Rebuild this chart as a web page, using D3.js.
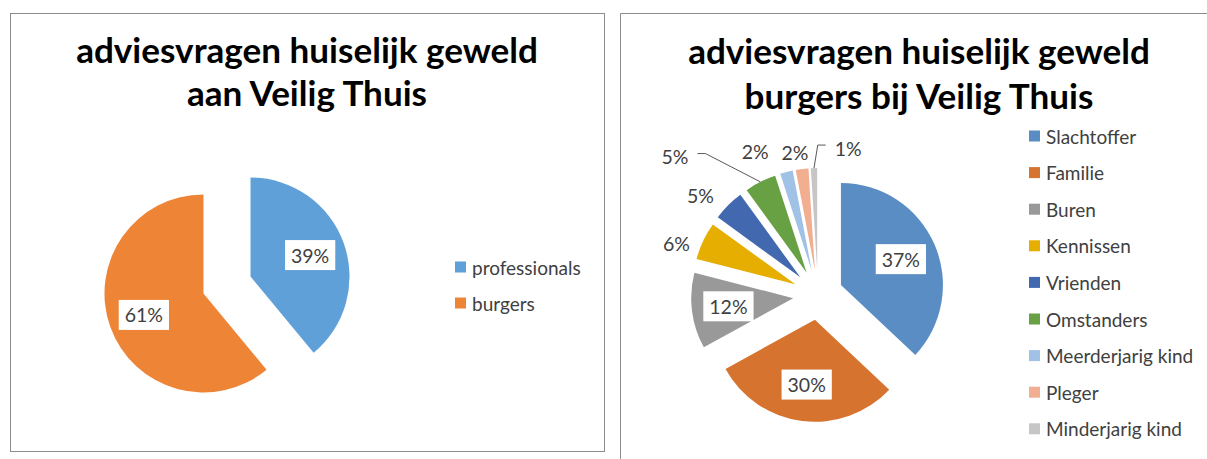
<!DOCTYPE html>
<html>
<head>
<meta charset="utf-8">
<script src="https://cdn.jsdelivr.net/npm/d3@7"></script>
<style>
  body { margin: 0; background: #fff; }
  svg { display: block; }
</style>
</head>
<body>
<div id="chart"></div>
<script>
// data
const leftTitle = ["adviesvragen huiselijk geweld", "aan Veilig Thuis"];
const leftLabels = ["professionals", "burgers"];
const leftValues = [39, 61];
const leftColors = ["#5fa0d8", "#ee8536"];

const rightTitle = ["adviesvragen huiselijk geweld", "burgers bij Veilig Thuis"];
const rightLabels = ["Slachtoffer", "Familie", "Buren", "Kennissen", "Vrienden",
                     "Omstanders", "Meerderjarig kind", "Pleger", "Minderjarig kind"];
const rightValues = [37, 30, 12, 6, 5, 5, 2, 2, 1];
const rightColors = ["#5a8dc3", "#d6732f", "#999999", "#e5ae00", "#4268b0",
                     "#68a044", "#9fc2e6", "#f2ae90", "#c6c6c6"];

// nudges for the outside labels (excel best-fit moved them), px
const rightNudge = [null, null, null, [-4, 13], [-10, 8], [-74, -3], [-25, 4], [-4, 8], [35, 5]];

const W = 1207, H = 459;
const FONT = "Lato, 'Open Sans', sans-serif";

const svg = d3.select("#chart").append("svg")
    .attr("width", W)
    .attr("height", H);

svg.append("rect").attr("width", W).attr("height", H).attr("fill", "#fff");

// frames
svg.append("rect")
    .attr("x", 10.5).attr("y", 13.5)
    .attr("width", 594).attr("height", 438)
    .attr("fill", "none").attr("stroke", "#8c8c8c");
svg.append("path")
    .attr("d", `M620.5,${H} V13.5 H${W}`)
    .attr("fill", "none").attr("stroke", "#8c8c8c");

// fit title font size so the first line gets the width it has in the picture
const probe = svg.append("text")
    .attr("font-family", FONT).attr("font-weight", 700)
    .attr("font-size", 100).text(leftTitle[0]);
const titleSize = 100 * 462 / probe.node().getComputedTextLength();
probe.remove();

const drawTitle = (lines, cx, baselines) => {
    lines.forEach((t, i) => {
        svg.append("text")
            .attr("x", cx).attr("y", baselines[i])
            .attr("text-anchor", "middle")
            .attr("font-family", FONT).attr("font-weight", 700)
            .attr("font-size", titleSize)
            .attr("fill", "#000")
            .text(t);
    });
};

drawTitle(leftTitle, 307, [63, 106]);
drawTitle(rightTitle, 919, [64, 109]);

const drawPie = (opts) => {
    const { values, colors, cx, cy, r, explode, nudge } = opts;
    const total = d3.sum(values);
    const pie = d3.pie().sort(null).value(d => d);
    const arcs = pie(values);
    const arc = d3.arc().innerRadius(0).outerRadius(r);

    const g = svg.append("g").attr("transform", `translate(${cx},${cy})`);

    const dir = a => [Math.sin(a), -Math.cos(a)];

    arcs.forEach((d, i) => {
        const mid = (d.startAngle + d.endAngle) / 2;
        const [ux, uy] = dir(mid);
        g.append("path")
            .attr("d", arc(d))
            .attr("transform", `translate(${ux * explode},${uy * explode})`)
            .attr("fill", colors[i]);
    });

    // labels
    arcs.forEach((d, i) => {
        const mid = (d.startAngle + d.endAngle) / 2;
        const [ux, uy] = dir(mid);
        const txt = Math.round(d.value / total * 100) + "%";
        const inside = d.value >= 10;
        let lx, ly;
        if (inside) {
            const lr = explode + r * 0.64;
            lx = ux * lr; ly = uy * lr;
        } else {
            const lr = explode + r + 25;
            lx = ux * lr + nudge[i][0];
            ly = uy * lr + nudge[i][1];
        }
        const t = g.append("text")
            .attr("x", lx).attr("y", ly)
            .attr("text-anchor", "middle")
            .attr("dominant-baseline", "central")
            .attr("font-family", FONT)
            .attr("font-size", 19.5)
            .attr("fill", "#404040")
            .text(txt);
        const tw = t.node().getComputedTextLength();
        if (inside) {
            g.insert("rect", () => t.node())
                .attr("x", lx - tw / 2 - 6).attr("y", ly - 15)
                .attr("width", tw + 12).attr("height", 30)
                .attr("fill", "#fff");
        } else if (Math.abs(nudge[i][0]) > 30) {
            // leader line back to the slice edge
            const side = nudge[i][0] < 0 ? 1 : -1;
            const sx = lx + side * (tw / 2 + 9);
            const mx = sx + side * 8;
            const ax = ux * (explode + r), ay = uy * (explode + r);
            g.append("path")
                .attr("d", `M${sx},${ly - 3} H${mx} L${ax},${ay}`)
                .attr("fill", "none")
                .attr("stroke", "#595959")
                .attr("stroke-width", 1);
        }
    });
};

const drawLegend = (labels, colors, x, y0, step) => {
    const g = svg.append("g");
    labels.forEach((l, i) => {
        const y = y0 + i * step;
        g.append("rect")
            .attr("x", x).attr("y", y - 5.5)
            .attr("width", 11).attr("height", 11)
            .attr("fill", colors[i]);
        g.append("text")
            .attr("x", x + 17).attr("y", y)
            .attr("dominant-baseline", "central")
            .attr("font-family", FONT)
            .attr("font-size", 19)
            .attr("fill", "#404040")
            .text(l);
    });
};

drawPie({ values: leftValues, colors: leftColors, cx: 227, cy: 285, r: 99, explode: 25 });
drawLegend(leftLabels, leftColors, 455, 267, 36);

drawPie({ values: rightValues, colors: rightColors, cx: 818, cy: 295, r: 102, explode: 25, nudge: rightNudge });
drawLegend(rightLabels, rightColors, 1029, 136, 36.6);
</script>
</body>
</html>
